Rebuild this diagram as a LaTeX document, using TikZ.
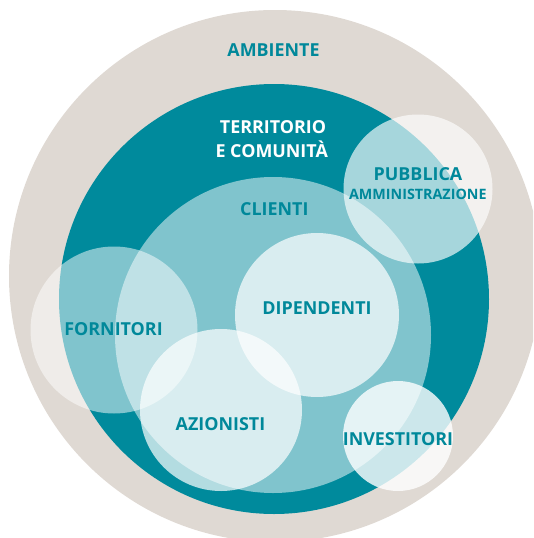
\documentclass[tikz,border=0pt]{standalone}
\usepackage{fontspec}
\setmainfont{Open Sans}
\definecolor{sand}{HTML}{DFD9D3}
\definecolor{petrol}{HTML}{008A9C}
\definecolor{labelink}{HTML}{00889A}
\begin{document}
\begin{tikzpicture}[x=1pt,y=-1pt,
  disc/.style={circle, inner sep=0pt, draw=none, minimum size=#1},
  veil/.style={fill=white, fill opacity=#1},
  lbl/.style={anchor=base, inner sep=0pt, text=labelink,
    font=\bfseries\fontsize{17.9}{20}\selectfont},
  lblsmall/.style={lbl, font=\bfseries\fontsize{14.3}{16}\selectfont},
  lblwhite/.style={lbl, text=white}]
\useasboundingbox (0,0) rectangle (533,538);
\begin{scope}
\clip (0,0) rectangle (533,538);
% nested stakeholder rings
\node[disc=532pt, fill=sand] (ambiente) at (275,276) {};
\node[disc=430pt, fill=petrol] (territorio) at (274,299) {};
\node[disc=316pt, veil=0.5] (clienti) at (273,335) {};
% overlapping stakeholder groups
\node[disc=149pt, veil=0.65] (pubblica) at (418,189) {};
\node[disc=167pt, veil=0.5] (fornitori) at (114,330) {};
\node[disc=164pt, veil=0.7] (dipendenti) at (317,315) {};
\node[disc=162pt, veil=0.7] (azionisti) at (221,410) {};
\node[disc=110pt, veil=0.8] (investitori) at (398,436) {};
\end{scope}
% labels
\node[lbl] (tAmbiente) at (273.5,56.7) {AMBIENTE};
\node[lblwhite] (tTerr1) at (273,133.3) {TERRITORIO};
\node[lblwhite] (tTerr2) at (271.7,157.3) {E COMUNITÀ};
\node[lbl] (tClienti) at (274.3,215) {CLIENTI};
\node[lbl] (tPubb1) at (418,180.3) {PUBBLICA};
\node[lblsmall] (tPubb2) at (417.8,199.3) {AMMINISTRAZIONE};
\node[lbl] (tFornitori) at (113.5,335.7) {FORNITORI};
\node[lbl] (tDipendenti) at (317,314.6) {DIPENDENTI};
\node[lbl] (tAzionisti) at (220.5,430) {AZIONISTI};
\node[lbl] (tInvestitori) at (398,445) {INVESTITORI};
\end{tikzpicture}
\end{document}
